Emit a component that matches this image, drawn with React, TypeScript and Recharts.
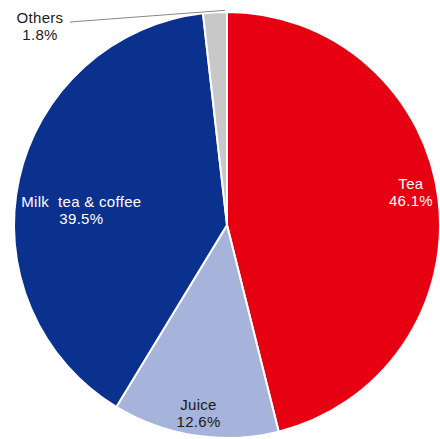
import { PieChart, Pie, Cell } from "recharts";

const categories = ["Tea", "Juice", "Milk tea & coffee", "Others"];
const shares = [46.1, 12.6, 39.5, 1.8];

const colors = ["#E60012", "#A6B3DA", "#0B318F", "#C8C8C8"];
const textColors = ["#ffffff", "#1a1a1a", "#ffffff", "#1a1a1a"];
// how far out each inside label sits, as a share of the radius, plus a nudge down
const labelRadius = [0.87, 0.89, 0.7, 0];
const labelNudge = [-9, 2, 18, 0];

const data = categories.map((name, i) => ({ name, value: shares[i] }));

const CX = 227;
const CY = 225;
const R = 213;
const RAD = Math.PI / 180;

const font = {
  fontFamily: "Liberation Sans, Arial, sans-serif",
  fontSize: 15,
  letterSpacing: 0.3,
  whiteSpace: "pre" as const,
};

const renderLabel = (props: any) => {
  const { midAngle, index, cx, cy, outerRadius } = props;
  const name = index === 2 ? "Milk\u00a0 tea & coffee" : categories[index];
  if (index === 3) {
    const ex = cx + outerRadius * Math.cos(-midAngle * RAD) + 10;
    const ey = cy + outerRadius * Math.sin(-midAngle * RAD) - 2;
    return (
      <g>
        <path d={`M${ex},${ey} L70,22`} stroke="#888" strokeWidth={1} fill="none" />
        <text x={40} y={23} textAnchor="middle" fill={textColors[index]} style={font}>
          <tspan x={40} dy={0}>{name}</tspan>
          <tspan x={40} dy={17}>{shares[index].toFixed(1)}%</tspan>
        </text>
      </g>
    );
  }
  const r = outerRadius * labelRadius[index];
  const x = cx + r * Math.cos(-midAngle * RAD);
  const y = cy + r * Math.sin(-midAngle * RAD) + labelNudge[index];
  return (
    <text x={x} y={y - 4} textAnchor="middle" fill={textColors[index]} style={font}>
      <tspan x={x} dy={0}>{name}</tspan>
      <tspan x={x} dy={17}>{shares[index].toFixed(1)}%</tspan>
    </text>
  );
};

export default function App() {
  return (
    <div style={{ position: "absolute", left: 0, top: 0 }}>
      <PieChart width={440} height={439} margin={{ top: 0, right: 0, bottom: 0, left: 0 }}>
        <Pie
          data={data}
          dataKey="value"
          nameKey="name"
          cx={CX}
          cy={CY}
          outerRadius={R}
          startAngle={90}
          endAngle={-270}
          stroke="#ffffff"
          strokeWidth={2}
          label={renderLabel}
          labelLine={false}
          isAnimationActive={false}
        >
          {data.map((d, i) => (
            <Cell key={d.name} fill={colors[i]} />
          ))}
        </Pie>
      </PieChart>
    </div>
  );
}
